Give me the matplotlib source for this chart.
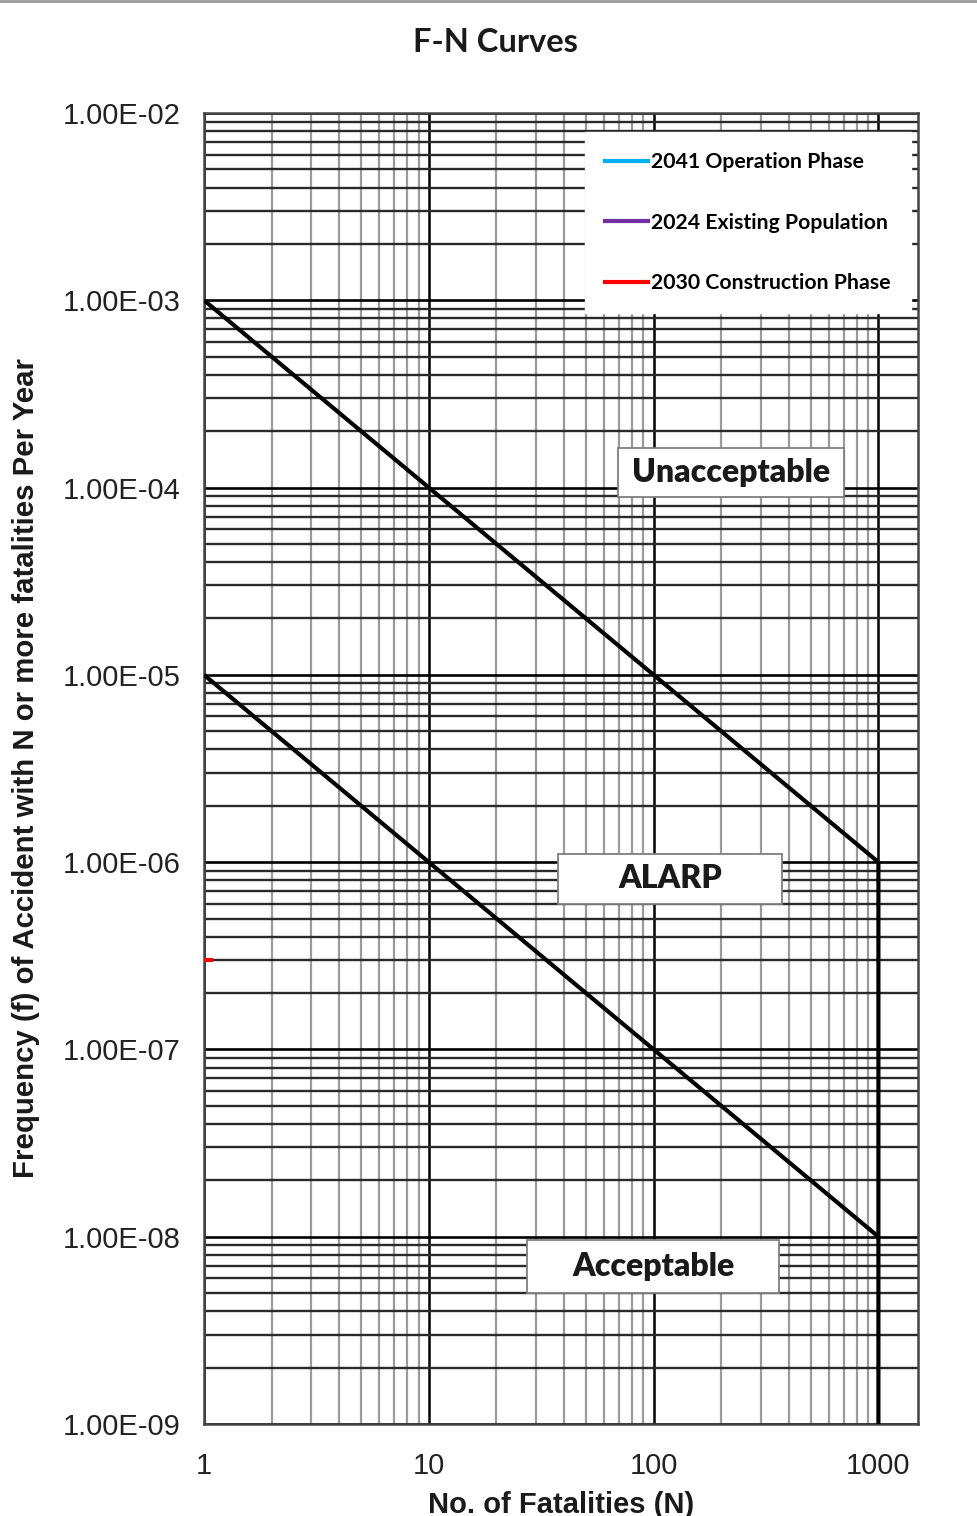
import matplotlib
matplotlib.use("Agg")
import matplotlib.pyplot as plt
from matplotlib.patches import Rectangle
from matplotlib.lines import Line2D
from matplotlib.ticker import LogLocator, NullFormatter

# ---- data ----
upper_N = [1, 1000, 1000]
upper_F = [1e-3, 1e-6, 1e-9]
lower_N = [1, 1000]
lower_F = [1e-5, 1e-8]

operation_N = []
operation_F = []
existing_N = []
existing_F = []
construction_N = [1, 1.07]
construction_F = [3e-7, 3e-7]

series_labels = ["2041 Operation Phase", "2024 Existing Population", "2030 Construction Phase"]
series_colors = ["#00b0f0", "#7030a0", "#ff0000"]

x_ticks = [1, 10, 100, 1000]
x_ticklabels = ["1", "10", "100", "1000"]
y_ticks = [1e-2, 1e-3, 1e-4, 1e-5, 1e-6, 1e-7, 1e-8, 1e-9]
y_ticklabels = ["1.00E-02", "1.00E-03", "1.00E-04", "1.00E-05",
                "1.00E-06", "1.00E-07", "1.00E-08", "1.00E-09"]

region_labels = ["Unacceptable", "ALARP", "Acceptable"]

# ---- figure ----
fig = plt.figure(figsize=(9.77, 15.16), dpi=100)
ax = fig.add_axes([204/977, 1-1424/1516, 714/977, 1311/1516])
ax.set_xscale("log")
ax.set_yscale("log")
ax.set_xlim(1, 1500)
ax.set_ylim(1e-9, 1e-2)

# grid
ax.xaxis.set_minor_locator(LogLocator(base=10, subs=range(2, 10), numticks=20))
ax.yaxis.set_minor_locator(LogLocator(base=10, subs=range(2, 10), numticks=20))
ax.xaxis.set_minor_formatter(NullFormatter())
ax.yaxis.set_minor_formatter(NullFormatter())
ax.grid(True, which="minor", axis="x", color="#9a9a9a", lw=1.6)
ax.grid(True, which="major", axis="x", color="#000000", lw=1.8)
ax.grid(True, which="minor", axis="y", color="#2a2a2a", lw=1.7)
ax.grid(True, which="major", axis="y", color="#000000", lw=1.9)
ax.set_axisbelow(True)

ax.set_xticks(x_ticks)
ax.set_xticklabels(x_ticklabels)
ax.set_yticks(y_ticks)
ax.set_yticklabels(y_ticklabels)
ax.tick_params(which="both", length=0)
ax.tick_params(axis="x", pad=20)
ax.tick_params(axis="y", pad=17)
for lab in ax.get_xticklabels() + ax.get_yticklabels():
    lab.set_fontfamily(["Liberation Sans", "DejaVu Sans"])
    lab.set_fontsize(21)
    lab.set_color("#222222")

for sp in ax.spines.values():
    sp.set_color("#444444")
    sp.set_linewidth(1.8)

# criteria lines
ax.plot(upper_N, upper_F, color="black", lw=3, zorder=3, solid_capstyle="butt")
ax.plot(lower_N, lower_F, color="black", lw=3, zorder=3, solid_capstyle="butt")

# series
h1, = ax.plot(operation_N, operation_F, color=series_colors[0], lw=3, label=series_labels[0], zorder=4)
h2, = ax.plot(existing_N, existing_F, color=series_colors[1], lw=3, label=series_labels[1], zorder=4)
h3, = ax.plot(construction_N, construction_F, color=series_colors[2], lw=3, label=series_labels[2], zorder=4)

leg = ax.legend(handles=[h1, h2, h3], loc="upper right",
                bbox_to_anchor=(0.990, 0.9855), frameon=True, fancybox=False,
                edgecolor="white", facecolor="white", framealpha=1,
                prop={"family": ["Lato", "DejaVu Sans"], "weight": "bold", "size": 15.3},
                handlelength=2.0, handletextpad=0.15, labelspacing=1.9,
                borderpad=0.95, borderaxespad=0)
leg.set_zorder(5)

# region label boxes (axes fractions)
boxes = [(0.580, 0.707, 0.316, 0.0374),
         (0.496, 0.397, 0.314, 0.038),
         (0.452, 0.100, 0.354, 0.0404)]
for (bx, by, bw, bh), txt in zip(boxes, region_labels):
    ax.add_patch(Rectangle((bx, by), bw, bh, transform=ax.transAxes,
                           facecolor="white", edgecolor="#7f7f7f", lw=1.3, zorder=6))
    ax.text(bx + bw/2, by + bh/2, txt, transform=ax.transAxes, ha="center", va="center",
            fontsize=23, fontweight="heavy", family=["Lato", "DejaVu Sans"],
            color="#1a1a1a", zorder=7)

ax.set_xlabel("No. of Fatalities (N)", fontsize=21, fontweight="bold",
              family=["Liberation Sans", "DejaVu Sans"], labelpad=8, color="#1a1a1a")
ax.set_ylabel("Frequency (f) of Accident with N or more fatalities Per Year", fontsize=21.2,
              fontweight="bold", family=["Liberation Sans", "DejaVu Sans"],
              labelpad=16, color="#1a1a1a")

fig.text(0.507, 1-42/1516, "F-N Curves", ha="center", va="center", fontsize=23.5,
         fontweight="bold", family=["Lato", "DejaVu Sans"], color="#1a1a1a")
fig.add_artist(Line2D([0, 1], [0.9993, 0.9993], transform=fig.transFigure, color="#9a9a9a", lw=2))

fig.savefig("out.png", dpi=100)
